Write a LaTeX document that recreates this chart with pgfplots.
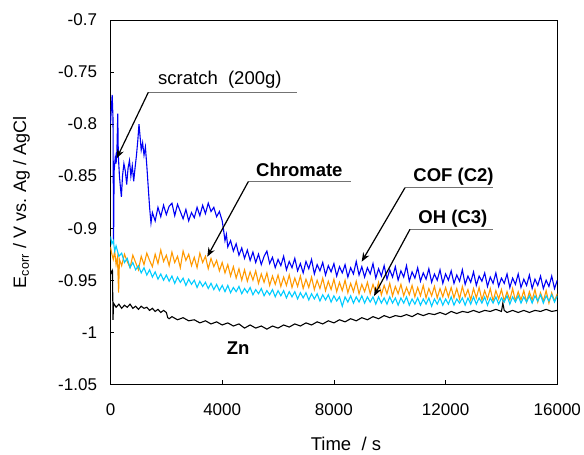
\documentclass[border=0pt]{standalone}
\usepackage{fontspec}
\setmainfont{Liberation Sans}
\usepackage{pgfplots}
\pgfplotsset{compat=1.18}
\usetikzlibrary{arrows.meta}
\definecolor{cblue}{RGB}{0,0,245}
\definecolor{corange}{RGB}{255,153,0}
\definecolor{ccyan}{RGB}{0,204,255}
\begin{document}
\begin{tikzpicture}
\useasboundingbox (-110.5pt,-70.7pt) rectangle (473.5pt,384.3pt);
\begin{axis}[
  at={(0,0)}, anchor=south west, scale only axis,
  width=446.8pt, height=364.3pt,
  xmin=0, xmax=16000, ymin=-1.05, ymax=-0.7,
  scaled x ticks=false, scaled y ticks=false,
  xtick={0,4000,8000,12000,16000},
  xticklabels={0,4000,8000,12000,16000},
  ytick={-1.05,-1,-0.95,-0.9,-0.85,-0.8,-0.75,-0.7},
  yticklabels={-1.05,-1,-0.95,-0.9,-0.85,-0.8,-0.75,-0.7},
  xtick pos=left, ytick pos=left,
  tick align=inside, major tick length=4pt,
  tick style={black, line width=0.8pt},
  axis line style={black, line width=0.9pt},
  tick label style={font=\fontsize{17}{20}\selectfont},
  yticklabel style={xshift=-10pt},
  xticklabel style={yshift=-16pt},
  xlabel={Time\ \ / s},
  xlabel style={at={(axis description cs:0.527,0)}, anchor=base, yshift=-66pt, font=\fontsize{18.5}{22}\selectfont},
  ylabel={E\textsubscript{corr} / V vs. Ag / AgCl},
  ylabel style={at={(axis description cs:-0.199,0.5)}, anchor=center, font=\fontsize{18}{22}\selectfont},
  clip=true,
]
% Chromate (orange)
\addplot[corange, line width=1.1pt] table {
0 -0.918
50 -0.925
100 -0.930
150 -0.922
200 -0.935
250 -0.928
290 -0.962
320 -0.930
400 -0.936
500 -0.925
600 -0.932
700 -0.938
800 -0.926
900 -0.933
1000 -0.940
1100 -0.927
1200 -0.935
1300 -0.924
1400 -0.931
1500 -0.937
1600 -0.925
1700 -0.934
1800 -0.921
1900 -0.932
2000 -0.926
2100 -0.936
2200 -0.923
2300 -0.933
2400 -0.927
2500 -0.938
2600 -0.922
2700 -0.931
2800 -0.925
2900 -0.936
3000 -0.928
3100 -0.938
3200 -0.924
3300 -0.933
3400 -0.927
3500 -0.939
3600 -0.929
3700 -0.937
3800 -0.931
3900 -0.941
4000 -0.933
4100 -0.943
4200 -0.935
4300 -0.946
4400 -0.937
4500 -0.948
4600 -0.939
4700 -0.950
4800 -0.940
4900 -0.951
5000 -0.942
5100 -0.950
5200 -0.941
5300 -0.953
5400 -0.944
5500 -0.952
5600 -0.943
5700 -0.955
5800 -0.946
5900 -0.954
6000 -0.945
6100 -0.956
6200 -0.947
6300 -0.955
6400 -0.945
6500 -0.957
6600 -0.948
6700 -0.956
6800 -0.946
6900 -0.958
7000 -0.949
7100 -0.957
7200 -0.947
7300 -0.959
7400 -0.950
7500 -0.958
7600 -0.948
7700 -0.960
7800 -0.951
7900 -0.959
8000 -0.949
8100 -0.961
8200 -0.952
8300 -0.960
8400 -0.950
8500 -0.962
8600 -0.953
8700 -0.961
8800 -0.951
8900 -0.963
9000 -0.954
9100 -0.961
9200 -0.952
9300 -0.963
9400 -0.954
9500 -0.962
9600 -0.952
9700 -0.964
9800 -0.955
9900 -0.963
10000 -0.953
10100 -0.965
10200 -0.956
10300 -0.963
10400 -0.954
10500 -0.965
10600 -0.957
10700 -0.964
10800 -0.955
10900 -0.966
11000 -0.957
11100 -0.965
11200 -0.955
11300 -0.967
11400 -0.958
11500 -0.965
11600 -0.956
11700 -0.967
11800 -0.958
11900 -0.966
12000 -0.957
12100 -0.966
12200 -0.957
12300 -0.967
12400 -0.958
12500 -0.968
12600 -0.956
12700 -0.966
12800 -0.959
12900 -0.969
13000 -0.958
13100 -0.967
13200 -0.957
13300 -0.969
13400 -0.960
13500 -0.968
13600 -0.958
13700 -0.970
13800 -0.960
13900 -0.968
14000 -0.959
14100 -0.970
14200 -0.961
14300 -0.969
14400 -0.958
14500 -0.970
14600 -0.961
14700 -0.969
14800 -0.960
14900 -0.971
15000 -0.961
15100 -0.969
15200 -0.959
15300 -0.971
15400 -0.962
15500 -0.970
15600 -0.960
15700 -0.972
15800 -0.962
15900 -0.970
16000 -0.963
};
% scratch / COF (blue)
\addplot[cblue, line width=1.1pt] table {
0 -0.800
30 -0.785
60 -0.772
90 -0.795
110 -0.915
130 -0.845
170 -0.832
200 -0.838
230 -0.825
260 -0.790
280 -0.830
320 -0.850
360 -0.862
390 -0.870
430 -0.850
480 -0.838
530 -0.845
580 -0.858
630 -0.842
680 -0.835
730 -0.850
780 -0.840
830 -0.855
880 -0.842
930 -0.830
980 -0.815
1020 -0.800
1060 -0.812
1100 -0.825
1150 -0.818
1200 -0.830
1250 -0.822
1300 -0.840
1350 -0.860
1400 -0.880
1450 -0.895
1500 -0.885
1600 -0.893
1700 -0.880
1800 -0.889
1900 -0.878
2000 -0.887
2100 -0.879
2200 -0.876
2300 -0.888
2400 -0.877
2500 -0.884
2600 -0.891
2700 -0.882
2800 -0.893
2900 -0.885
3000 -0.890
3100 -0.880
3200 -0.888
3300 -0.878
3400 -0.886
3500 -0.876
3600 -0.884
3700 -0.880
3800 -0.889
3900 -0.884
4000 -0.893
4050 -0.902
4100 -0.912
4150 -0.906
4200 -0.918
4300 -0.912
4400 -0.922
4500 -0.915
4600 -0.926
4700 -0.919
4800 -0.929
4900 -0.921
5000 -0.931
5100 -0.923
5200 -0.933
5300 -0.925
5400 -0.935
5500 -0.927
5600 -0.922
5700 -0.934
5800 -0.928
5900 -0.938
6000 -0.930
6100 -0.936
6200 -0.927
6300 -0.940
6400 -0.932
6500 -0.938
6600 -0.929
6700 -0.941
6800 -0.934
6900 -0.943
7000 -0.932
7100 -0.939
7200 -0.930
7300 -0.944
7400 -0.935
7500 -0.941
7600 -0.933
7700 -0.945
7800 -0.936
7900 -0.942
8000 -0.934
8100 -0.946
8200 -0.937
8300 -0.943
8400 -0.935
8500 -0.947
8600 -0.938
8700 -0.944
8800 -0.932
8900 -0.945
9000 -0.937
9100 -0.947
9200 -0.938
9300 -0.944
9400 -0.934
9500 -0.948
9600 -0.939
9700 -0.946
9800 -0.936
9900 -0.949
10000 -0.940
10100 -0.947
10200 -0.937
10300 -0.950
10400 -0.941
10500 -0.947
10600 -0.936
10700 -0.951
10800 -0.942
10900 -0.948
11000 -0.938
11100 -0.951
11200 -0.943
11300 -0.949
11400 -0.939
11500 -0.952
11600 -0.944
11700 -0.950
11800 -0.940
11900 -0.953
12000 -0.944
12100 -0.950
12200 -0.941
12300 -0.953
12400 -0.945
12500 -0.951
12600 -0.940
12700 -0.954
12800 -0.946
12900 -0.952
13000 -0.942
13100 -0.955
13200 -0.946
13300 -0.951
13400 -0.943
13500 -0.956
13600 -0.947
13700 -0.953
13800 -0.943
13900 -0.956
14000 -0.948
14100 -0.953
14200 -0.944
14300 -0.957
14400 -0.948
14500 -0.954
14600 -0.944
14700 -0.957
14800 -0.949
14900 -0.955
15000 -0.945
15100 -0.958
15200 -0.949
15300 -0.955
15400 -0.946
15500 -0.958
15600 -0.950
15700 -0.956
15800 -0.946
15900 -0.958
16000 -0.950
};
% OH C3 (cyan)
\addplot[ccyan, line width=1.1pt] table {
0 -0.908
50 -0.915
100 -0.912
150 -0.922
200 -0.917
300 -0.927
400 -0.924
500 -0.933
600 -0.929
700 -0.938
800 -0.933
900 -0.940
1000 -0.936
1100 -0.943
1200 -0.938
1300 -0.945
1400 -0.940
1500 -0.947
1600 -0.942
1700 -0.949
1800 -0.944
1900 -0.950
2000 -0.945
2100 -0.951
2200 -0.946
2300 -0.953
2400 -0.947
2500 -0.952
2600 -0.948
2700 -0.955
2800 -0.949
2900 -0.954
3000 -0.950
3100 -0.957
3200 -0.951
3300 -0.956
3400 -0.952
3500 -0.958
3600 -0.953
3700 -0.959
3800 -0.954
3900 -0.960
4000 -0.955
4100 -0.961
4200 -0.955
4300 -0.962
4400 -0.957
4500 -0.961
4600 -0.956
4700 -0.963
4800 -0.958
4900 -0.962
5000 -0.957
5100 -0.964
5200 -0.959
5300 -0.963
5400 -0.958
5500 -0.965
5600 -0.960
5700 -0.964
5800 -0.959
5900 -0.966
6000 -0.960
6100 -0.965
6200 -0.960
6300 -0.967
6400 -0.961
6500 -0.966
6600 -0.961
6700 -0.968
6800 -0.962
6900 -0.967
7000 -0.962
7100 -0.969
7200 -0.963
7300 -0.968
7400 -0.963
7500 -0.970
7600 -0.964
7700 -0.969
7800 -0.964
7900 -0.971
8000 -0.965
8100 -0.970
8200 -0.966
8300 -0.975
8400 -0.966
8500 -0.971
8600 -0.965
8700 -0.972
8800 -0.966
8900 -0.971
9000 -0.965
9100 -0.972
9200 -0.966
9300 -0.971
9400 -0.966
9500 -0.973
9600 -0.966
9700 -0.972
9800 -0.967
9900 -0.973
10000 -0.966
10100 -0.972
10200 -0.967
10300 -0.974
10400 -0.967
10500 -0.972
10600 -0.966
10700 -0.974
10800 -0.968
10900 -0.973
11000 -0.967
11100 -0.974
11200 -0.968
11300 -0.973
11400 -0.967
11500 -0.975
11600 -0.968
11700 -0.973
11800 -0.967
11900 -0.974
12000 -0.968
12100 -0.973
12200 -0.966
12300 -0.974
12400 -0.968
12500 -0.972
12600 -0.967
12700 -0.974
12800 -0.967
12900 -0.973
13000 -0.966
13100 -0.973
13200 -0.967
13300 -0.972
13400 -0.966
13500 -0.974
13600 -0.967
13700 -0.972
13800 -0.966
13900 -0.973
14000 -0.967
14100 -0.971
14200 -0.965
14300 -0.973
14400 -0.966
14500 -0.971
14600 -0.965
14700 -0.972
14800 -0.966
14900 -0.971
15000 -0.965
15100 -0.972
15200 -0.965
15300 -0.970
15400 -0.964
15500 -0.972
15600 -0.965
15700 -0.970
15800 -0.964
15900 -0.971
16000 -0.965
};
% Zn (black)
\addplot[black, line width=1.1pt] table {
0 -0.940
40 -0.943
70 -0.941
90 -0.988
110 -0.972
200 -0.976
300 -0.973
400 -0.977
500 -0.974
600 -0.976
700 -0.973
800 -0.977
900 -0.975
1000 -0.978
1100 -0.975
1200 -0.977
1300 -0.976
1400 -0.979
1500 -0.977
1600 -0.980
1700 -0.978
1800 -0.981
1900 -0.979
2000 -0.981
2050 -0.986
2100 -0.987
2200 -0.985
2400 -0.988
2600 -0.986
2800 -0.989
3000 -0.988
3200 -0.991
3400 -0.989
3600 -0.992
3800 -0.990
4000 -0.993
4200 -0.991
4400 -0.994
4600 -0.992
4800 -0.996
5000 -0.993
5200 -0.996
5400 -0.994
5600 -0.997
5800 -0.994
6000 -0.996
6200 -0.993
6400 -0.995
6600 -0.992
6800 -0.994
7000 -0.991
7200 -0.993
7400 -0.990
7600 -0.992
7800 -0.989
8000 -0.991
8200 -0.988
8400 -0.990
8600 -0.987
8800 -0.989
9000 -0.986
9200 -0.988
9400 -0.985
9600 -0.987
9800 -0.984
10000 -0.986
10200 -0.984
10400 -0.985
10600 -0.983
10800 -0.985
11000 -0.982
11200 -0.984
11400 -0.982
11600 -0.983
11800 -0.981
12000 -0.983
12200 -0.980
12400 -0.982
12600 -0.980
12800 -0.981
13000 -0.979
13200 -0.981
13400 -0.979
13600 -0.980
13800 -0.978
14000 -0.980
14050 -0.972
14100 -0.979
14200 -0.981
14400 -0.979
14600 -0.981
14800 -0.979
15000 -0.981
15200 -0.979
15400 -0.980
15600 -0.978
15800 -0.980
16000 -0.979
};
% annotations
\tikzset{ann/.style={line width=1.2pt, -{Stealth[length=9pt,width=7pt]}}}
\draw[black!55, line width=1.2pt] (axis cs:1354,-0.7695) -- (axis cs:6668,-0.7695);
\draw[ann] (axis cs:1354,-0.7695) -- (axis cs:222,-0.8329);
\node[anchor=base west, inner sep=0pt, font=\fontsize{18.5}{22}\selectfont] at (axis cs:1700,-0.7615) {scratch\ \ (200g)};
\draw[black!55, line width=1.2pt] (axis cs:4935,-0.8553) -- (axis cs:8601,-0.8553);
\draw[ann] (axis cs:4935,-0.8553) -- (axis cs:3466,-0.9274);
\node[anchor=base west, inner sep=0pt, font=\fontsize{18.5}{22}\selectfont\bfseries] at (axis cs:5210,-0.8505) {Chromate};
\draw[black!55, line width=1.2pt] (axis cs:10546,-0.8611) -- (axis cs:13708,-0.8611);
\draw[ann] (axis cs:10546,-0.8611) -- (axis cs:8995,-0.9322);
\node[anchor=base west, inner sep=0pt, font=\fontsize{18.5}{22}\selectfont\bfseries] at (axis cs:10843,-0.8553) {COF (C2)};
\draw[black!55, line width=1.2pt] (axis cs:10725,-0.9011) -- (axis cs:13687,-0.9011);
\draw[ann] (axis cs:10725,-0.9011) -- (axis cs:9436,-0.9652);
\node[anchor=base west, inner sep=0pt, font=\fontsize{18.5}{22}\selectfont\bfseries] at (axis cs:11022,-0.8953) {OH (C3)};
\node[anchor=base west, inner sep=0pt, font=\fontsize{18.5}{22}\selectfont\bfseries] at (axis cs:4161,-1.0218) {Zn};
\end{axis}
\end{tikzpicture}
\end{document}
